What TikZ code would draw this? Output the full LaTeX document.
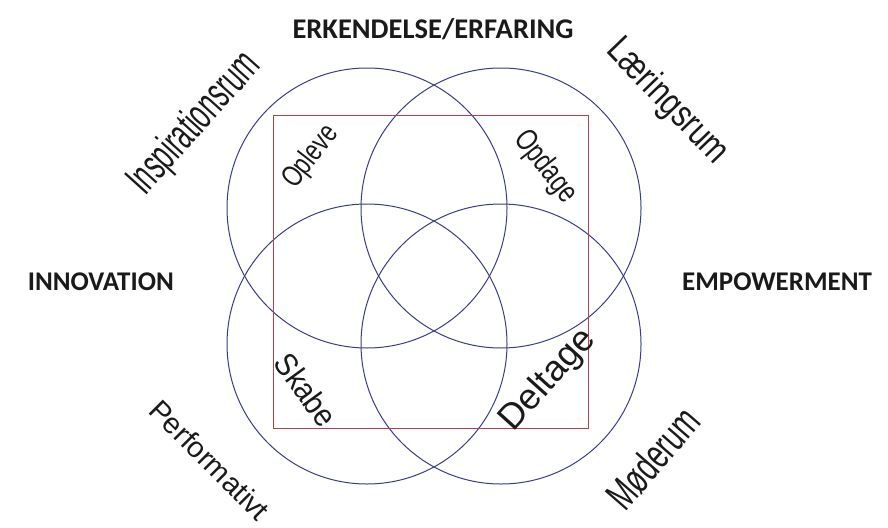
\documentclass[tikz,border=0pt]{standalone}
\usepackage{fontspec}
\usepackage{graphicx}
\setmainfont{Liberation Sans}
\newfontfamily\hdrfont{Carlito}
\definecolor{circ}{HTML}{3A3F7E}
\definecolor{sqc}{HTML}{B8404C}
\definecolor{ink}{HTML}{1A1A1A}
\newcommand\strtext[3]{\scalebox{#1}[1]{\fontsize{#2}{#2}\selectfont #3}}
\begin{document}
\begin{tikzpicture}[x=1pt,y=-1pt,
  ring/.style={circle, draw=circ, line width=1pt, minimum size=280pt, inner sep=0pt},
  frame/.style={draw=sqc, line width=0.9pt, minimum width=315pt, minimum height=313pt, inner sep=0pt},
  hdr/.style={font=\hdrfont\bfseries\fontsize{27}{30}\selectfont, inner sep=0pt, text=ink},
  lbl/.style={inner sep=0pt, text=ink}]
\useasboundingbox (0,0) rectangle (888,527);
\clip (0,0) rectangle (888,527);
\fill[white] (0,0) rectangle (888,527);

% circles and frame
\node[ring] (tl) at (367,208) {};
\node[ring] (tr) at (501,208) {};
\node[ring] (bl) at (367,344) {};
\node[ring] (br) at (501,344) {};
\node[frame] (sq) at (431,271.5) {};

% headings
\node[hdr, font=\hdrfont\bfseries\fontsize{28.5}{30}\selectfont] (erk) at (433,29) {ERKENDELSE/ERFARING};
\node[hdr, anchor=east] (inn) at (174,282) {INNOVATION};
\node[hdr, anchor=west] (emp) at (682,282) {EMPOWERMENT};

% outer rooms
\node[lbl, rotate=48] (insp) at (195,124) {\strtext{0.58}{44}{Inspirationsrum}};
\node[lbl, rotate=-46] (laer) at (667,102) {\strtext{0.78}{38}{Læringsrum}};
\node[lbl, rotate=49] (mode) at (653,458) {\strtext{0.66}{42}{Møderum}};
\node[lbl, rotate=-45, anchor=base west] (perf) at (147,412) {\strtext{1}{29}{Performativt}};

% inner verbs
\node[lbl, rotate=52] (opl) at (311,157) {\strtext{0.75}{30}{Opleve}};
\node[lbl, rotate=-52] (opd) at (545,167) {\strtext{0.75}{31}{Opdage}};
\node[lbl, rotate=-54] (ska) at (306,390) {\strtext{0.9}{32}{Skabe}};
\node[lbl, rotate=48] (del) at (548,380) {\strtext{1}{36}{Deltage}};
\end{tikzpicture}
\end{document}
